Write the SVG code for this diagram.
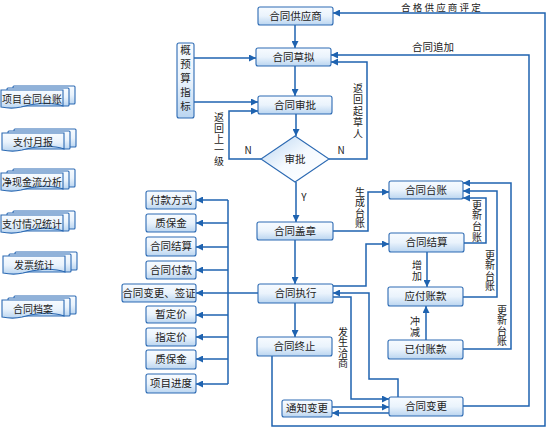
<svg xmlns="http://www.w3.org/2000/svg" width="549" height="429" viewBox="0 0 549 429">
<style>
.box{fill:url(#gb);stroke:#2c6ab3;stroke-width:1.1}
.doc{fill:url(#gb);stroke:#2c6ab3;stroke-width:1.1}
.c{fill:none;stroke:#1f63b0;stroke-width:1.5}
.a{marker-end:url(#ah)}
text{font-family:"Noto Sans CJK SC","Noto Sans",sans-serif;font-size:10.5px;fill:#222;text-anchor:middle}
.s{font-size:10px}
.v{font-size:10px;writing-mode:vertical-rl;text-anchor:start}
</style>
<defs>
<linearGradient id="gb" x1="0" y1="0" x2="0" y2="1">
<stop offset="0" stop-color="#f7fbff"/>
<stop offset="0.5" stop-color="#eaf3fc"/>
<stop offset="1" stop-color="#bad5f0"/>
</linearGradient>
<linearGradient id="gd" x1="0" y1="0" x2="1" y2="1">
<stop offset="0" stop-color="#b8d4f0"/>
<stop offset="0.5" stop-color="#f5faff"/>
<stop offset="1" stop-color="#ffffff"/>
</linearGradient>
<marker id="ah" viewBox="0 0 10 10" refX="10" refY="5" markerWidth="8" markerHeight="7" markerUnits="userSpaceOnUse" orient="auto">
<path d="M0,0 L10,5 L0,10 Z" fill="#1f63b0"/>
</marker>
<g id="stack">
<rect class="doc" x="12" y="0" width="62" height="18" rx="1"/>
<rect class="doc" x="6" y="2" width="62" height="18" rx="1"/>
<path class="doc" d="M0,4 H62 V20 C48,15 30,18 20,21 C12,23 5,22 0,21 Z"/>
</g>
</defs>

<g id="connectors">
<path class="c a" d="M295,25 V48"/>
<path class="c a" d="M295,66 V96"/>
<path class="c a" d="M194,58 H256"/>
<path class="c a" d="M194,102 H258"/>
<path class="c a" d="M296,114 V136"/>
<path class="c a" d="M261,159 H229 V111 H258"/>
<path class="c a" d="M329,159 H367 V62 H331"/>
<path class="c a" d="M296,182 V222"/>
<path class="c a" d="M295,240 V284"/>
<path class="c a" d="M333,231 H368 V192 H389"/>
<path class="c a" d="M333,286 H366 V244 H389"/>
<path class="c a" d="M398,397 V379 H369 V293 H333"/>
<path class="c a" d="M333,297 H351 V399 H389"/>
<path class="c a" d="M332,407 H389"/>
<path class="c a" d="M389,413 H332"/>
<path class="c a" d="M463,406 H529 V55 H331"/>
<path class="c a" d="M272,356 V426 H545 V13 H333"/>
<path class="c a" d="M464,243 H486 V198 H463"/>
<path class="c a" d="M463,297 H497 V191 H463"/>
<path class="c a" d="M463,349 H511 V183 H463"/>
<path class="c a" d="M427,252 V287"/>
<path class="c a" d="M426,340 V306"/>
<path class="c a" d="M295,303 V337"/>
<path class="c a" d="M258,293 H196"/>
<path class="c" d="M228,200 V384"/>
<path class="c a" d="M228,200 H196"/>
<path class="c a" d="M228,223 H196"/>
<path class="c a" d="M228,247 H196"/>
<path class="c a" d="M228,270 H196"/>
<path class="c a" d="M228,315 H196"/>
<path class="c a" d="M228,337 H196"/>
<path class="c a" d="M228,359 H196"/>
<path class="c a" d="M228,384 H196"/>
</g>

<g id="labels">
<text x="442" y="11" style="font-size:9.5px;letter-spacing:2.2px">合格供应商评定</text>
<text x="433" y="51">合同追加</text>
<text x="248" y="154" class="s">N</text>
<text x="341" y="154" class="s">N</text>
<text x="304" y="201" class="s">Y</text>
<text class="v" x="219" y="112" style="letter-spacing:1px">返回上一级</text>
<text class="v" x="358" y="83" style="letter-spacing:1.5px">返回起草人</text>
<text class="v" x="360" y="187" style="letter-spacing:0.5px">生成台账</text>
<text class="v" x="477" y="200" style="letter-spacing:0.7px">更新台账</text>
<text class="v" x="490" y="250" style="letter-spacing:0.5px">更新台账</text>
<text class="v" x="502" y="305" style="letter-spacing:0.5px">更新台账</text>
<text class="v" x="417" y="260" style="letter-spacing:1px">增加</text>
<text class="v" x="415" y="316.5" style="letter-spacing:0.5px">冲减</text>
<text class="v" x="343" y="327" style="letter-spacing:0.5px">发生洽商</text>
</g>

<g id="n-supplier"><rect class="box" x="258" y="7" width="75" height="18" rx="2"/><text x="295.5" y="19.5">合同供应商</text></g>
<g id="n-draft"><rect class="box" x="256" y="48" width="75" height="18" rx="2"/><text x="293.5" y="60.5">合同草拟</text></g>
<g id="n-approve"><rect class="box" x="258" y="96" width="74" height="18" rx="2"/><text x="295" y="108.5">合同审批</text></g>
<g id="n-budget"><rect class="box" x="177" y="43" width="17" height="75" rx="2"/><text class="v" x="185.5" y="45" style="font-size:10.5px;letter-spacing:3.5px">概预算指标</text></g>
<g id="n-decision"><path d="M295,136 L329,159 L295,182 L261,159 Z" fill="url(#gd)" stroke="#2c6ab3" stroke-width="1.1"/><text x="295" y="163">审批</text></g>
<g id="n-seal"><rect class="box" x="257" y="222" width="76" height="18" rx="2"/><text x="295" y="234.5">合同盖章</text></g>
<g id="n-exec"><rect class="box" x="258" y="284" width="75" height="19" rx="2"/><text x="295.5" y="297">合同执行</text></g>
<g id="n-end"><rect class="box" x="257" y="337" width="75" height="19" rx="2"/><text x="294.5" y="350">合同终止</text></g>
<g id="n-ledger"><rect class="box" x="389" y="181" width="74" height="18" rx="2"/><text x="426" y="193.5">合同台账</text></g>
<g id="n-settle"><rect class="box" x="389" y="233" width="75" height="19" rx="2"/><text x="426.5" y="246">合同结算</text></g>
<g id="n-payable"><rect class="box" x="388" y="287" width="75" height="19" rx="2"/><text x="425.5" y="300">应付账款</text></g>
<g id="n-paid"><rect class="box" x="388" y="340" width="75" height="19" rx="2"/><text x="425.5" y="353">已付账款</text></g>
<g id="n-change"><rect class="box" x="389" y="397" width="74" height="19" rx="2"/><text x="426" y="410">合同变更</text></g>
<g id="n-notify"><rect class="box" x="282" y="400" width="50" height="17" rx="2"/><text x="307" y="412">通知变更</text></g>

<g id="n-l1"><rect class="box" x="146" y="191" width="50" height="18" rx="2"/><text x="171" y="203.5">付款方式</text></g>
<g id="n-l2"><rect class="box" x="146" y="214" width="50" height="18" rx="2"/><text x="171" y="226.5">质保金</text></g>
<g id="n-l3"><rect class="box" x="146" y="237" width="50" height="19" rx="2"/><text x="171" y="250">合同结算</text></g>
<g id="n-l4"><rect class="box" x="146" y="261" width="50" height="18" rx="2"/><text x="171" y="273.5">合同付款</text></g>
<g id="n-l5"><rect class="box" x="122" y="284" width="74" height="18" rx="2"/><text x="159" y="296.5">合同变更、签证</text></g>
<g id="n-l6"><rect class="box" x="146" y="306" width="50" height="17" rx="2"/><text x="171" y="318">暂定价</text></g>
<g id="n-l7"><rect class="box" x="146" y="328" width="50" height="18" rx="2"/><text x="171" y="340.5">指定价</text></g>
<g id="n-l8"><rect class="box" x="146" y="350" width="50" height="19" rx="2"/><text x="171" y="363">质保金</text></g>
<g id="n-l9"><rect class="box" x="146" y="374" width="50" height="19" rx="2"/><text x="171" y="387">项目进度</text></g>

<g id="d-1"><use href="#stack" x="1" y="86"/><text class="s" x="32" y="103">项目合同台账</text></g>
<g id="d-2"><use href="#stack" x="2" y="129"/><text class="s" x="33" y="146">支付月报</text></g>
<g id="d-3"><use href="#stack" x="1" y="169"/><text class="s" x="32" y="186">净现金流分析</text></g>
<g id="d-4"><use href="#stack" x="1" y="211"/><text class="s" x="32" y="228">支付情况统计</text></g>
<g id="d-5"><use href="#stack" x="3" y="252"/><text class="s" x="34" y="269">发票统计</text></g>
<g id="d-6"><use href="#stack" x="2" y="296"/><text class="s" x="33" y="313">合同档案</text></g>
</svg>
